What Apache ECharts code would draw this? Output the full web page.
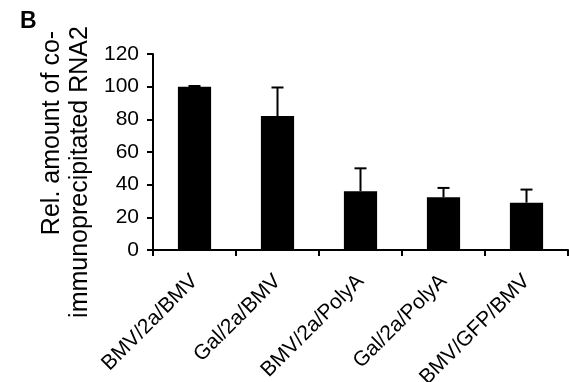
<!DOCTYPE html>
<html>
<head>
<meta charset="utf-8">
<script src="https://cdn.jsdelivr.net/npm/echarts@6/dist/echarts.min.js"></script>
<style>html,body{margin:0;padding:0;background:#fff;}#c{width:569px;height:382px;}</style>
</head>
<body>
<div id="c"></div>
<script>
var categories = ['BMV/2a/BMV', 'Gal/2a/BMV', 'BMV/2a/PolyA', 'Gal/2a/PolyA', 'BMV/GFP/BMV'];
var values = [100, 82, 36, 32.3, 29];
var errors = [0.4, 17.5, 14, 5.7, 8];
var yTicks = [0, 20, 40, 60, 80, 100, 120];
var titleLines = ['Rel. amount of co-', 'immunoprecipitated RNA2'];

var chart = echarts.init(document.getElementById('c'));
var font = 'Liberation Sans, Arial, sans-serif';
chart.setOption({
  animation: false,
  backgroundColor: '#fff',
  graphic: [{
    type: 'text', left: 20, top: 10,
    style: { text: 'B', fontFamily: font, fontWeight: 'bold', fontSize: 23, fill: '#000' }
  }, {
    type: 'text', x: 52, y: 133, rotation: Math.PI / 2,
    style: { text: titleLines[0], fontFamily: font, fontSize: 25, fill: '#000', textAlign: 'center', textVerticalAlign: 'middle' }
  }, {
    type: 'text', x: 80, y: 172, rotation: Math.PI / 2,
    style: { text: titleLines[1], fontFamily: font, fontSize: 25, fill: '#000', textAlign: 'center', textVerticalAlign: 'middle' }
  }],
  grid: { left: 153, right: 1, top: 54, bottom: 132, containLabel: false, outerBoundsMode: 'none' },
  xAxis: {
    type: 'category',
    data: categories,
    axisLine: { lineStyle: { color: '#000', width: 2 } },
    axisTick: { show: true, alignWithLabel: false, length: 6, lineStyle: { color: '#000', width: 2 } },
    axisLabel: { rotate: 45, interval: 0, margin: 28, color: '#000', fontSize: 21, fontFamily: font }
  },
  yAxis: {
    type: 'value', min: yTicks[0], max: yTicks[yTicks.length - 1], interval: 20,
    axisLine: { show: true, lineStyle: { color: '#000', width: 2 } },
    axisTick: { show: true, length: 6, lineStyle: { color: '#000', width: 2 } },
    axisLabel: { color: '#000', fontSize: 21, fontFamily: font, margin: 14 },
    splitLine: { show: false }
  },
  series: [{
    type: 'bar',
    data: values,
    barWidth: '40%',
    itemStyle: { color: '#000' }
  }, {
    type: 'custom',
    data: values.map(function (v, i) { return [i, v, v + errors[i]]; }),
    renderItem: function (params, api) {
      var i = api.value(0);
      var p0 = api.coord([i, api.value(1)]);
      var p1 = api.coord([i, api.value(2)]);
      var hw = 6;
      return {
        type: 'group',
        children: [
          { type: 'line', shape: { x1: p0[0], y1: p0[1], x2: p1[0], y2: p1[1] }, style: { stroke: '#000', lineWidth: 2 } },
          { type: 'line', shape: { x1: p1[0] - hw, y1: p1[1], x2: p1[0] + hw, y2: p1[1] }, style: { stroke: '#000', lineWidth: 2 } }
        ]
      };
    },
    z: 3
  }]
});
</script>
</body>
</html>
